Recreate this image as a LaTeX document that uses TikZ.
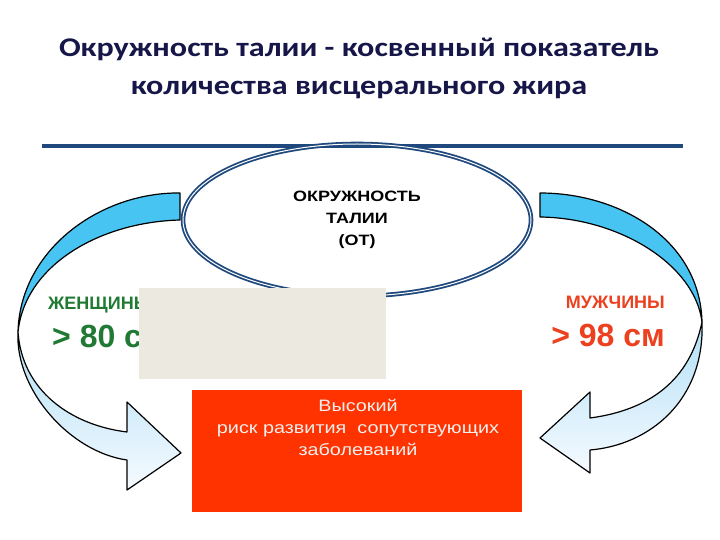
\documentclass[tikz,border=0pt]{standalone}
\usepackage{fontspec}
\setmainfont{Liberation Sans}
\newfontfamily\titlefont[FakeStretch=1.19]{Carlito}
\newfontfamily\widefont[FakeStretch=1.2]{Liberation Sans}
\usetikzlibrary{shapes.geometric}

\definecolor{titleblue}{RGB}{22,22,72}
\definecolor{rulerblue}{RGB}{31,73,125}
\definecolor{bandblue}{RGB}{72,196,242}
\definecolor{bandlight}{RGB}{178,224,246}
\definecolor{bandpale}{RGB}{246,250,255}
\definecolor{maskgray}{RGB}{236,233,224}
\definecolor{riskred}{RGB}{255,51,0}
\definecolor{womengreen}{RGB}{32,122,52}
\definecolor{menred}{RGB}{236,64,30}

\tikzset{
  upperband/.style={fill=bandblue,draw=black,line width=1.2bp,line join=round},
  lowerband/.style={top color=bandlight,bottom color=bandpale,draw=black,line width=1.2bp,line join=round},
  sizelabel/.style={inner sep=0pt,font=\fontsize{18bp}{20bp}\selectfont\bfseries},
  sizevalue/.style={inner sep=0pt,font=\fontsize{32bp}{34bp}\selectfont\bfseries}
}

\begin{document}
\begin{tikzpicture}[x=1bp,y=-1bp]

  \useasboundingbox[fill=white] (0,0) rectangle (720,540);

  \node[titleblue,align=center,font=\titlefont\fontsize{27bp}{38bp}\selectfont\bfseries] (title) at (359,68)
    {Окружность талии - косвенный показатель\\количества висцерального жира};

  \draw[rulerblue,line width=3.5bp] (42,146) -- (683,146);

  % left arrow
  \path[lowerband] (18,332) .. controls (22,390) and (70,425) .. (127,432) -- (127,402) -- (181,453)
    -- (127,490) -- (127,460) .. controls (70,452) and (15,390) .. (18,332) -- cycle;
  \path[upperband] (180,193) .. controls (100,192) and (20,250) .. (18,332)
    .. controls (25,265) and (100,222) .. (180,220) -- cycle;

  % right arrow
  \path[lowerband] (702,322) .. controls (705,400) and (650,445) .. (590,450) -- (590,473) -- (540,438)
    -- (590,392) -- (590,418) .. controls (650,410) and (690,380) .. (702,322) -- cycle;
  \path[upperband] (540,193) .. controls (620,193) and (700,240) .. (702,322)
    .. controls (695,265) and (620,218) .. (540,217) -- cycle;

  \node[ellipse,draw=rulerblue,double=white,double distance=1bp,line width=1.8bp,
        minimum width=348bp,minimum height=152bp,align=center,
        font=\widefont\fontsize{15bp}{22bp}\selectfont\bfseries] (ot) at (357,220)
    {ОКРУЖНОСТЬ\\ТАЛИИ\\(ОТ)};

  \begin{scope}[every node/.style={sizelabel}]
    \node[womengreen,anchor=west] (women) at (48,305) {ЖЕНЩИНЫ};
    \node[menred,anchor=east] (men) at (665,302) {МУЖЧИНЫ};
  \end{scope}

  \begin{scope}[every node/.style={sizevalue}]
    \node[womengreen,anchor=west] (womenval) at (52,336) {> 80 см};
    \node[menred,anchor=east] (menval) at (665,335) {> 98 см};
  \end{scope}

  \begin{scope}[every node/.style={rectangle,inner sep=0pt}]
    \node[fill=maskgray,minimum width=247bp,minimum height=91bp] (mask) at (262.5,333.5) {};
    \node[fill=riskred,minimum width=330bp,minimum height=122bp] (risk) at (357,451) {};
  \end{scope}

  \node[align=center,text=white!94!black,font=\widefont\fontsize{16.5bp}{22bp}\selectfont] (risktext) at (358,427)
    {Высокий\\риск развития \ сопутствующих\\заболеваний};

\end{tikzpicture}
\end{document}
